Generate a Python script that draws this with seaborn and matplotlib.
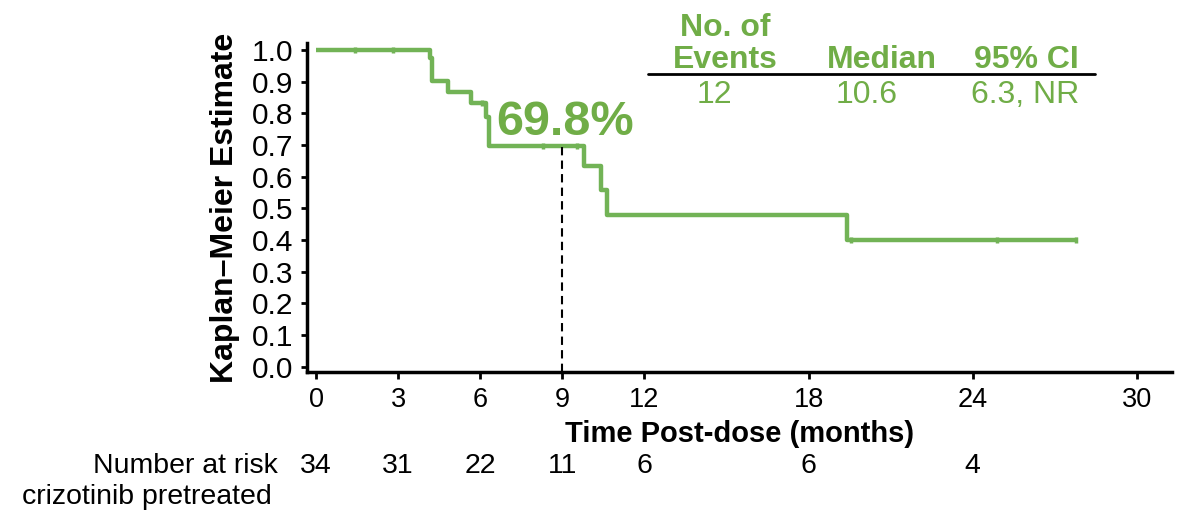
import numpy as np
import pandas as pd
import seaborn as sns
from matplotlib import pyplot as plt
from matplotlib import transforms

GREEN = '#72B356'
TEXT_GREEN = '#70AD47'

# step curve (months, survival estimate)
step_times = [0, 4.17, 4.23, 4.83, 5.65, 6.21, 6.33, 9.80, 10.40, 10.62, 19.39, 27.84]
step_values = [1.0, 0.974, 0.902, 0.868, 0.832, 0.789, 0.697, 0.632, 0.558, 0.479, 0.400, 0.400]

censor_times = [1.42, 2.82, 6.05, 8.30, 9.52, 19.54, 24.87, 27.77]
censor_values = [1.0, 1.0, 0.832, 0.697, 0.697, 0.400, 0.400, 0.400]

landmark_time = 9
landmark_value = 0.698
landmark_label = '69.8%'

risk_times = [0, 3, 6, 9, 12, 18, 24]
risk_counts = [34, 31, 22, 11, 6, 6, 4]

x_ticks = [0, 3, 6, 9, 12, 18, 24, 30]
y_ticks = [0.0, 0.1, 0.2, 0.3, 0.4, 0.5, 0.6, 0.7, 0.8, 0.9, 1.0]

table_headers = ['No. of\nEvents', 'Median', '95% CI']
table_values = ['12', '10.6', '6.3, NR']


def main():
    sns.set_theme(style='white')
    plt.rcParams['font.family'] = ['Liberation Sans', 'DejaVu Sans']
    plt.rcParams['text.color'] = 'black'
    plt.rcParams['axes.labelcolor'] = 'black'

    fig = plt.figure(figsize=(11.83, 5.18), dpi=100)
    ax = fig.add_axes([0.2595, 0.2819, 0.9907 - 0.2595, 0.917 - 0.2819])

    curve = pd.DataFrame({'time': step_times, 'value': step_values})
    sns.lineplot(data=curve, x='time', y='value', ax=ax, color=GREEN,
                 linewidth=3.2, drawstyle='steps-post', estimator=None,
                 solid_capstyle='butt')
    ax.plot(censor_times, censor_values, linestyle='none', marker='|',
            markersize=5, markeredgewidth=2.5, color=GREEN)

    ax.set_xlim(-0.33, 31.28)
    ax.set_ylim(-0.017, 1.022)

    # dashed landmark line
    ax.plot([landmark_time, landmark_time], [-0.017, landmark_value],
            color='black', linestyle=(0, (4, 2.5)), linewidth=1.5)
    ax.text(6.6, 0.77, landmark_label, color=TEXT_GREEN, fontsize=35,
            fontweight='bold', ha='left', va='center')

    ax.set_xticks(x_ticks)
    ax.set_yticks(y_ticks)
    ax.set_yticklabels([f'{v:.1f}' for v in y_ticks])
    ax.tick_params(axis='x', labelsize=19.5, length=5, width=2, pad=6,
                   direction='out', bottom=True, colors='black')
    ax.tick_params(axis='y', labelsize=21.5, length=4, width=2, pad=6,
                   direction='out', left=True, colors='black')

    for side in ['top', 'right']:
        ax.spines[side].set_visible(False)
    for side in ['left', 'bottom']:
        ax.spines[side].set_linewidth(2.5)
        ax.spines[side].set_color('black')

    ax.set_xlabel('Time Post-dose (months)', fontsize=21,
                  fontweight='bold', labelpad=0)
    ax.set_ylabel('Kaplan\u2013Meier Estimate', fontsize=23,
                  fontweight='bold', labelpad=8)
    ax.xaxis.set_label_coords(0.5, -0.145)

    # table at top right (figure pixel coordinates)
    W, H = 1183, 518
    header_x = [725, 882, 1026]
    value_x = [714, 867, 1025]
    for hx, head in zip(header_x, table_headers):
        fig.text(hx / W, 1 - 68 / H, head, color=TEXT_GREEN, fontsize=23,
                 fontweight='bold', ha='center', va='baseline',
                 linespacing=1.08)
    fig.add_artist(plt.Line2D([648 / W, 1095 / W], [1 - 74 / H, 1 - 74 / H],
                              color='black', linewidth=2))
    for vx, val in zip(value_x, table_values):
        fig.text(vx / W, 1 - 103 / H, val, color=TEXT_GREEN, fontsize=23,
                 ha='center', va='baseline')

    # number at risk table
    trans = transforms.blended_transform_factory(ax.transData, fig.transFigure)
    for t, n in zip(risk_times, risk_counts):
        ax.text(t, 1 - 466 / H, str(n), transform=trans, fontsize=20.5,
                ha='center', va='center', clip_on=False)
    fig.text(278 / W, 1 - 466 / H, 'Number at risk', fontsize=20.5,
             ha='right', va='center')
    fig.text(22 / W, 1 - 497 / H, 'crizotinib pretreated', fontsize=20.5,
             ha='left', va='center')

    fig.savefig('out.png', dpi=100)


if __name__ == '__main__':
    main()
